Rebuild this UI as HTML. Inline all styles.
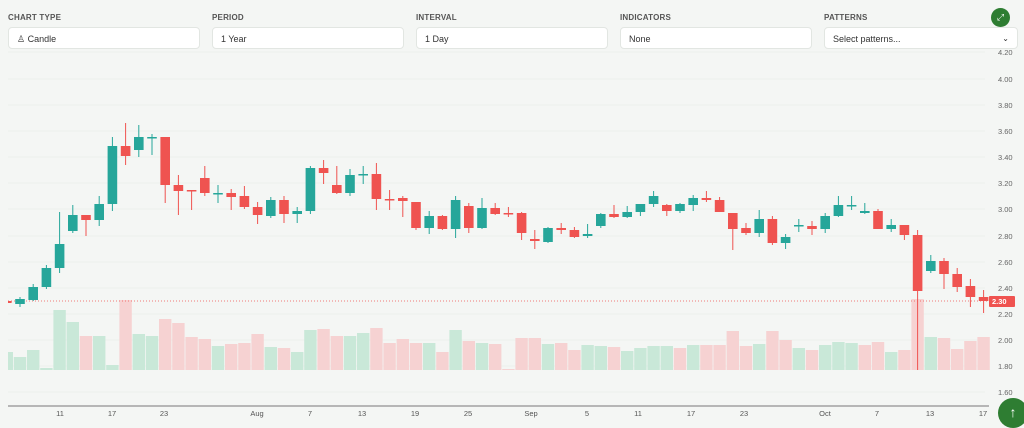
<!DOCTYPE html>
<html><head><meta charset="utf-8"><style>
body{margin:0;width:1024px;height:421px;background:#f4f6f4;font-family:"Liberation Sans",sans-serif;overflow:hidden;position:relative}
.lab{position:absolute;top:13px;font-size:8px;font-weight:bold;color:#555;letter-spacing:.2px}
.inp{position:absolute;top:27px;height:22px;width:192px;background:#fff;border:1px solid #e2e6e2;border-radius:4px;font-size:9px;color:#333;line-height:22px;padding-left:8px;box-sizing:border-box}
svg{position:absolute;left:0;top:0}
</style></head><body>
<svg id="s" width="1024" height="421" font-family="Liberation Sans, sans-serif"></svg>
<div class="lab" style="left:8px">CHART TYPE</div>
<div class="lab" style="left:212px">PERIOD</div>
<div class="lab" style="left:416px">INTERVAL</div>
<div class="lab" style="left:620px">INDICATORS</div>
<div class="lab" style="left:824px">PATTERNS</div>
<div class="inp" style="left:8px">♙ Candle</div>
<div class="inp" style="left:212px">1 Year</div>
<div class="inp" style="left:416px">1 Day</div>
<div class="inp" style="left:620px">None</div>
<div class="inp" style="left:824px;width:194px">Select patterns...<span style="position:absolute;right:8px;font-size:8px">⌄</span></div>
<div style="position:absolute;left:991px;top:8px;width:19px;height:19px;border-radius:50%;background:#2e7d32;color:#fff;font-size:9px;text-align:center;line-height:19px">⤢</div>
<div style="position:absolute;left:998px;top:398px;width:30px;height:30px;border-radius:50%;background:#2e7d32;color:#fff;font-size:14px;text-align:center;line-height:28px">↑</div>
<script>
var s=document.getElementById('s'),h='<defs><clipPath id="cp"><rect x="8" y="0" width="990" height="421"/></clipPath></defs>';
var P=[[4.2,52],[4.0,79],[3.8,105],[3.6,131],[3.4,157],[3.2,183],[3.0,209],[2.8,236],[2.6,262],[2.4,288],[2.2,314],[2.0,340],[1.8,366],[1.6,392]];
var g='';
P.forEach(function(p){g+='<line x1="8" x2="985" y1="'+p[1]+'" y2="'+p[1]+'" stroke="#edf0ed" stroke-width="1"/>';
h+='<text x="998" y="'+(p[1]+3)+'" font-size="7.5" fill="#666">'+p[0].toFixed(2)+'</text>';});
var C=[[-1,'r',301,303,300,304],
[0,'g',299,304,297,307],[1,'g',287,300,284,301],[2,'g',268,287,265,289],[3,'g',244,268,212,273],[4,'g',215,231,205,233],[5,'r',215,220,215,236],[6,'g',204,220,196,226],[7,'g',146,204,137,211],[8,'r',146,156,123,165],[9,'g',137,150,125,157],[10,'g',137,138,134,155],[11,'r',137,185,137,203],[12,'r',185,191,175,215],[13,'r',190,191,190,210],[14,'r',178,193,166,196],[15,'g',193,194,185,203],[16,'r',193,197,189,210],[17,'r',196,207,186,209],[18,'r',207,215,202,224],[19,'g',200,216,197,218],[20,'r',200,214,196,223],[21,'g',211,214,207,223],[22,'g',168,211,166,214],[23,'r',168,173,160,184],[24,'r',185,193,166,194],[25,'g',175,193,169,196],[26,'g',174,175,166,184],[27,'r',174,199,163,210],[28,'r',199,200,190,210],[29,'r',198,201,196,217],[30,'r',202,228,202,230],[31,'g',216,228,211,234],[32,'r',216,229,215,230],[33,'g',200,229,196,238],[34,'r',206,228,203,233],[35,'g',208,228,198,229],[36,'r',208,214,203,215],[37,'r',213,214,207,217],[38,'r',213,233,212,240],[39,'r',239,241,230,249],[40,'g',228,242,227,243],[41,'r',228,230,223,234],[42,'r',230,237,227,238],[43,'g',234,236,224,238],[44,'g',214,226,213,228],[45,'r',214,217,205,218],[46,'g',212,217,206,218],[47,'g',204,212,204,216],[48,'g',196,204,191,207],[49,'r',205,211,204,216],[50,'g',204,211,203,213],[51,'g',198,205,195,211],[52,'r',198,200,191,202],[53,'r',200,212,197,212],[54,'r',213,229,213,250],[55,'r',228,233,223,235],[56,'g',219,233,210,237],[57,'r',219,243,216,245],[58,'g',237,243,234,249],[59,'g',225,226,219,232],[60,'r',226,229,221,235],[61,'g',216,229,213,233],[62,'g',205,216,196,217],[63,'g',205,206,196,210],[64,'g',211,213,203,214],[65,'r',211,229,209,229],[66,'g',225,229,219,232],[67,'r',225,235,225,240],[68,'r',235,291,230,370],[69,'g',261,271,255,273],[70,'r',261,274,258,289],[71,'r',274,287,268,292],[72,'r',286,297,279,307],[73,'r',297,301,290,313]];
var V={'-1':['g',352],0:['g',357],1:['g',350],2:['g',368],3:['g',310],4:['g',322],5:['r',336],6:['g',336],7:['g',365],8:['r',300],9:['g',334],10:['g',336],11:['r',319],12:['r',323],13:['r',337],14:['r',339],15:['g',346],16:['r',344],17:['r',343],18:['r',334],19:['g',347],20:['r',348],21:['g',352],22:['g',330],23:['r',329],24:['r',336],25:['g',336],26:['g',333],27:['r',328],28:['r',343],29:['r',339],30:['r',343],31:['g',343],32:['r',352],33:['g',330],34:['r',341],35:['g',343],36:['r',344],37:['r',369],38:['r',338],39:['r',338],40:['g',344],41:['r',343],42:['r',350],43:['g',345],44:['g',346],45:['r',347],46:['g',351],47:['g',348],48:['g',346],49:['g',346],50:['r',348],51:['g',345],52:['r',345],53:['r',345],54:['r',331],55:['r',346],56:['g',344],57:['r',331],58:['r',340],59:['g',348],60:['r',350],61:['g',345],62:['g',342],63:['g',343],64:['r',345],65:['r',342],66:['g',352],67:['r',350],68:['r',299],69:['g',337],70:['r',338],71:['r',349],72:['r',341],73:['r',337]};
for(var k in V){var i=+k,x=20+13.2*i,v=V[k];
g+='<rect x="'+(x-6.2)+'" y="'+v[1]+'" width="12.4" height="'+(370-v[1])+'" fill="'+(v[0]=='g'?'#c9e8d8':'#f6d2d2')+'"/>';}
g+='<line x1="8" x2="988" y1="301" y2="301" stroke="#ef5350" stroke-width="0.8" stroke-dasharray="1,2"/>';
C.forEach(function(c){var x=20+13.2*c[0],col=c[1]=='g'?'#26a69a':'#ef5350';
g+='<line x1="'+x+'" x2="'+x+'" y1="'+c[4]+'" y2="'+c[5]+'" stroke="'+col+'" stroke-width="1"/>';
g+='<rect x="'+(x-4.8)+'" y="'+c[2]+'" width="9.6" height="'+Math.max(1.5,c[3]-c[2])+'" fill="'+col+'"/>';});
h+='<g clip-path="url(#cp)">'+g+'</g>';
h+='<rect x="989" y="296" width="26" height="11" fill="#ef5350" rx="1"/><text x="992" y="304" font-size="7.5" fill="#fff" font-weight="bold">2.30</text>';
h+='<line x1="8" x2="989" y1="406" y2="406" stroke="#777" stroke-width="1"/>';
[['11',60],['17',112],['23',164],['Aug',257],['7',310],['13',362],['19',415],['25',468],['Sep',531],['5',587],['11',638],['17',691],['23',744],['Oct',825],['7',877],['13',930],['17',983]].forEach(function(t){
h+='<text x="'+t[1]+'" y="416" font-size="7.5" fill="#555" text-anchor="middle">'+t[0]+'</text>';});
s.innerHTML=h;
</script>
</body></html>
